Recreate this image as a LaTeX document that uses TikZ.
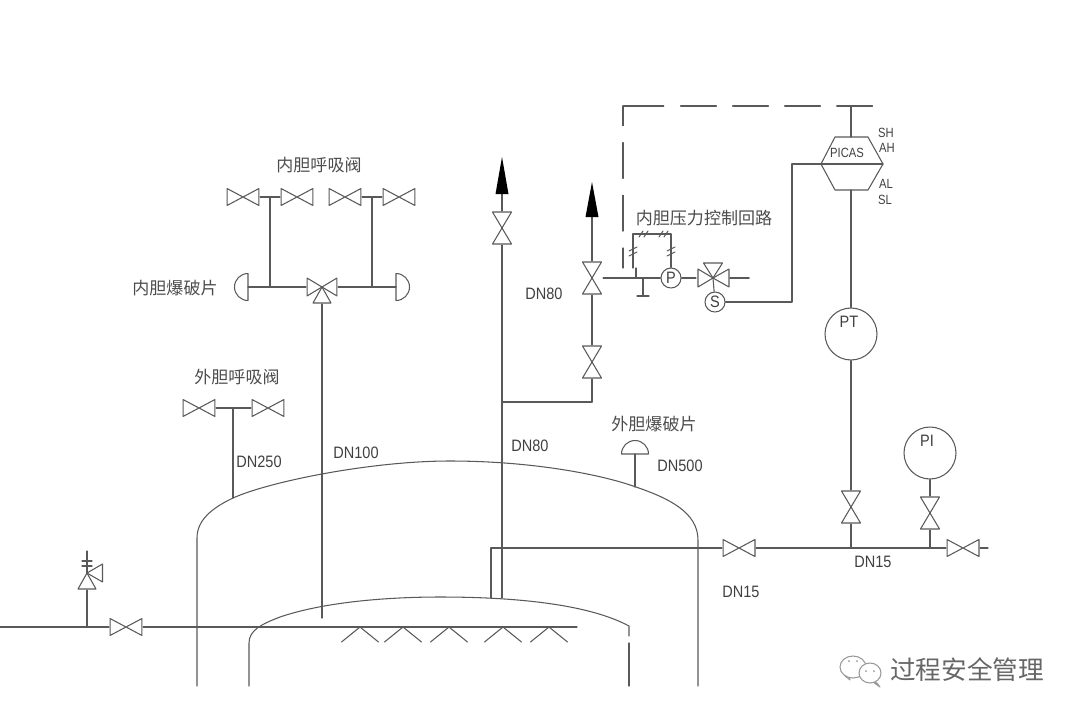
\documentclass[tikz,border=0pt]{standalone}
\usepackage{fontspec}
\setsansfont{Liberation Sans}
\newfontfamily\cjk{Noto Sans CJK SC}
\colorlet{pipe}{black!65}
\tikzset{
    lbl/.style={font=\sffamily\fontsize{9.4}{11}\selectfont,text=black!75,xscale=0.88,transform shape,inner sep=0pt},
    tiny lbl/.style={font=\sffamily\fontsize{7.6}{9}\selectfont,text=black!75,xscale=0.84,transform shape,inner sep=0pt},
    cjk lbl/.style={font=\cjk\fontsize{9.7}{11}\selectfont,text=black!70,inner sep=0pt},
    gauge/.style={circle,draw=pipe,inner sep=0pt,minimum size=1.04cm},
    small gauge/.style={circle,draw=pipe,inner sep=0pt,minimum size=0.4cm},
    valveh/.style={inner sep=0pt,minimum width=0.66cm,minimum height=0.36cm,path picture={
        \draw[pipe] (path picture bounding box.center) -- ++(-16,-8.5) -- ++(0,17) -- ++(32,-17) -- ++(0,17) -- cycle;}},
    valvev/.style={inner sep=0pt,minimum width=0.42cm,minimum height=0.66cm,path picture={
        \draw[pipe] (path picture bounding box.center) -- ++(-9.5,-16) -- ++(19,0) -- ++(-19,32) -- ++(19,0) -- cycle;}},
    valvetee/.style={inner sep=0pt,minimum width=0.62cm,minimum height=0.66cm,path picture={
        \draw[pipe] (path picture bounding box.center) -- ++(-15,-9) -- ++(0,18) -- ++(30,-18) -- ++(0,18) -- cycle;
        \draw[pipe] (path picture bounding box.center) -- ++(-9,16) -- ++(18,0) -- cycle;}},
    valvesol/.style={inner sep=0pt,minimum width=0.66cm,minimum height=0.66cm,path picture={
        \draw[pipe] (path picture bounding box.center) -- ++(-15,-9) -- ++(0,18) -- cycle;
        \draw[pipe] (path picture bounding box.center) -- ++(16,-9) -- ++(0,18) -- cycle;
        \draw[pipe] (path picture bounding box.center) -- ++(-9.5,-15) -- ++(19,0) -- cycle;}},
    valverel/.style={inner sep=0pt,minimum width=0.66cm,minimum height=0.66cm,path picture={
        \draw[pipe] (path picture bounding box.center) -- ++(-9,16) -- ++(18,0) -- cycle;
        \draw[pipe] (path picture bounding box.center) -- ++(15.5,-9) -- ++(0,18) -- cycle;}},
}

\begin{document}
\begin{tikzpicture}[x=0.02cm,y=-0.02cm,line cap=round,line join=round,draw=pipe,line width=0.6pt]
    \useasboundingbox (0,0) rectangle (1080,718);

    % outer and inner shell
    \draw (197,686) -- (197,538) .. controls (197,520) and (212,508) .. (233,498) .. controls (268,482) and (370,461) .. (450,461) .. controls (530,461) and (600,474) .. (636,487) .. controls (668,498) and (698,512) .. (698,540) -- (698,686);
    \draw (249,686) -- (249,643) .. controls (249,630) and (262,624) .. (280,617) .. controls (330,600) and (400,597) .. (440,597) .. controls (520,597) and (590,605) .. (629,626) -- (629,636);
    \draw (629,643) -- (629,686);

    % nitrogen header and spray
    \coordinate (H0) at (0,627);
    \coordinate (Htee) at (87,627);
    \coordinate (Hend) at (577,627);
    \node[valveh] (V0) at (126,627) {};
    \draw (H0) -- (V0);
    \draw (V0) -- (Hend);
    \foreach \i in {360,403,449,503,549} {
        \draw (\i-18.5,642) -- (\i,627) -- (\i+18.5,642);
    }

    % relief valve
    \node[valverel] (RV) at (87,573) {};
    \coordinate (RVtop) at (87,551);
    \draw (Htee) -- (RV);
    \draw (RV.center) -- (RVtop);
    \draw (82,561) -- (92,561);
    \draw (82,566) -- (92,566);

    % inner breather
    \node[valvetee] (V3) at (322,287) {};
    \coordinate (V3in) at (322,618);
    \draw (V3in) -- (V3);
    \node[valveh] (VB1) at (243,197) {};
    \node[valveh] (VB2) at (297,197) {};
    \node[valveh] (VB3) at (345,197) {};
    \node[valveh] (VB4) at (399,197) {};
    \coordinate (TB1) at (270,197);
    \coordinate (TB2) at (372,197);
    \coordinate (JB1) at (270,287);
    \coordinate (JB2) at (372,287);
    \coordinate (RDL) at (248,287);
    \coordinate (RDR) at (396,287);
    \draw (VB1) -- (VB2);
    \draw (VB3) -- (VB4);
    \draw (TB1) -- (JB1);
    \draw (TB2) -- (JB2);
    \draw (RDL) -- (V3);
    \draw (V3) -- (RDR);
    \draw (248,273.5) arc[start angle=270,end angle=90,radius=13.5] -- cycle;
    \draw (396,273.5) arc[start angle=270,end angle=450,radius=13.5] -- cycle;

    % outer breather
    \node[valveh] (VO1) at (199,408) {};
    \node[valveh] (VO2) at (268,408) {};
    \coordinate (TO) at (233,408);
    \coordinate (TOb) at (233,498);
    \draw (VO1) -- (VO2);
    \draw (TO) -- (TOb);

    % outer bursting disc
    \coordinate (RDO) at (635,454);
    \coordinate (RDOb) at (635,487);
    \draw (RDO) -- (RDOb);
    \draw (621.5,454) arc[start angle=180,end angle=360,radius=13.5] -- cycle;

    % vent stacks
    \node[valvev] (VS1) at (502,228) {};
    \coordinate (S1b) at (502,598);
    \coordinate (S1t) at (502,194);
    \coordinate (S1j) at (502,402);
    \coordinate (S2j) at (592,402);
    \coordinate (S2t) at (592,217);
    \node[valvev] (VS2) at (592,362) {};
    \node[valvev] (VS3) at (592,278) {};
    \draw (S1b) -- (VS1);
    \draw (VS1) -- (S1t);
    \draw (S1j) -- (S2j);
    \draw (S2j) -- (VS2);
    \draw (VS2) -- (VS3);
    \draw (VS3) -- (S2t);
    \fill[black] (S1t) ++(-6.5,0) -- ++(6.5,-37) -- ++(6.5,37) -- cycle;
    \fill[black] (S2t) ++(-6.5,0) -- ++(6.5,-35) -- ++(6.5,35) -- cycle;

    % pressure control loop
    \node[small gauge] (P) at (671,278) {};
    \node[lbl] at (671,278) {P};
    \node[valvesol] (SV) at (713,278) {};
    \node[small gauge] (S) at (715,302) {};
    \node[lbl] at (715,302) {S};
    \coordinate (Tap) at (643,278);
    \coordinate (Tapb) at (643,296);
    \coordinate (Tapi) at (636,278);
    \coordinate (Tapu) at (636,268);
    \coordinate (SVend) at (749,278);
    \draw (VS3) -- (P);
    \draw (P) -- (SV);
    \draw (Tap) -- (Tapb);
    \draw (637,296) -- (649,296);
    \draw (Tapi) -- (Tapu);
    \draw[line width=1pt] (730,278) -- (SVend);
    \draw (SV.center) -- (S);
    \draw (633,268) -- (633,234) -- (671,234) -- (P);
    \foreach \y in {249,254} {
        \draw (629,\y+2) -- (637,\y-2);
        \draw (667,\y+2) -- (675,\y-2);
    }
    \foreach \x in {641,646,661,666} {
        \draw (\x-2,237) -- (\x+2,231);
    }

    % transmitter column
    \node[gauge] (PT) at (851,334) {};
    \node[lbl] at (849,322) {PT};
    \coordinate (HexT) at (851,137);
    \coordinate (HexB) at (851,190);
    \coordinate (HexL) at (821,164);
    \coordinate (HexR) at (883,164);
    \coordinate (Dash) at (851,106);
    \draw (835,137) -- (868,137) -- (HexR) -- (868,190) -- (835,190) -- (HexL) -- cycle;
    \draw (HexL) -- (HexR);
    \draw (HexT) -- (Dash);
    \draw (HexB) -- (PT);
    \draw (S) -- (792,302) -- (792,164) -- (HexL);
    \node[tiny lbl] at (847,153) {PICAS};
    \node[tiny lbl] at (886,133) {SH};
    \node[tiny lbl] at (887,148) {AH};
    \node[tiny lbl] at (886,184) {AL};
    \node[tiny lbl] at (885,200) {SL};
    \draw[dash pattern=on 23.2pt off 9.6pt on 20.4pt off 9.2pt on 20.4pt off 9.2pt on 20.4pt off 9.2pt on 20.4pt off 40pt] (623,106) -- (873,106);
    \draw[dash pattern=on 20.4pt off 9.6pt,dash phase=9pt] (623,268) -- (623,106);

    % sampling header
    \coordinate (Hs0) at (491,598);
    \coordinate (Hs1) at (491,548);
    \coordinate (Hs2) at (851,548);
    \coordinate (Hs3) at (930,548);
    \coordinate (Hs4) at (988,548);
    \node[valveh] (VH1) at (739,548) {};
    \node[valveh] (VH2) at (963,548) {};
    \node[valvev] (VP1) at (851,507) {};
    \node[valvev] (VP2) at (930,513) {};
    \node[gauge] (PI) at (930,453) {};
    \node[lbl] at (927,441) {PI};
    \draw (Hs0) -- (Hs1) -- (VH1);
    \draw (VH1) -- (VH2);
    \draw (VH2) -- (Hs4);
    \draw (PT) -- (VP1);
    \draw (VP1) -- (Hs2);
    \draw (PI) -- (VP2);
    \draw (VP2) -- (Hs3);

    % labels
    \node[cjk lbl] at (319,165) {内胆呼吸阀};
    \node[cjk lbl] at (175,288) {内胆爆破片};
    \node[cjk lbl] at (237,377) {外胆呼吸阀};
    \node[cjk lbl] at (654,424) {外胆爆破片};
    \node[cjk lbl] at (704,218) {内胆压力控制回路};
    \node[lbl] at (544,294) {DN80};
    \node[lbl] at (259,462) {DN250};
    \node[lbl] at (356,453) {DN100};
    \node[lbl] at (530,446) {DN80};
    \node[lbl] at (680,466) {DN500};
    \node[lbl] at (741,592) {DN15};
    \node[lbl] at (873,562) {DN15};

    % watermark
    \draw[black!40,fill=white] (845,676) -- (850,680) -- (849,675) -- cycle;
    \draw[black!40,fill=white] (853,667) ellipse (13 and 11);
    \draw[black!40,fill=white] (877,683) -- (880,687) -- (873,682) -- cycle;
    \draw[black!40,fill=white] (870,673) ellipse (11 and 10);
    \fill[black!40] (849,661) circle (1) (857,661) circle (1) (866,671) circle (1) (874,671) circle (1);
    \node[font=\cjk\fontsize{14.6}{16}\selectfont,text=black!60,inner sep=0pt] at (967,670) {过程安全管理};
\end{tikzpicture}
\end{document}
